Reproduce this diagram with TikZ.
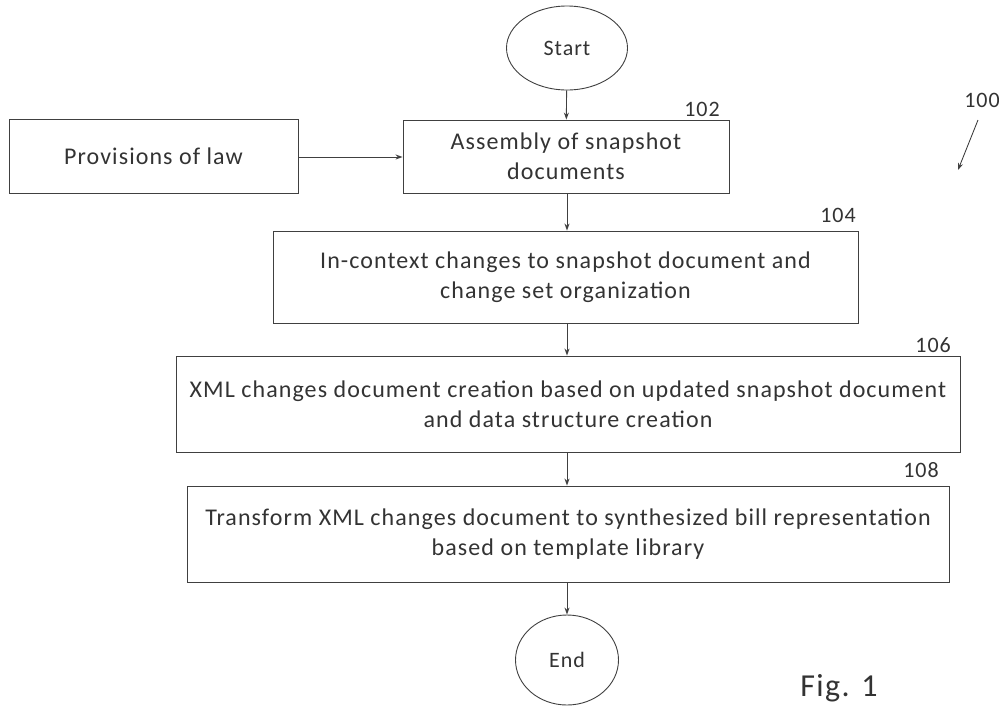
\documentclass[tikz,border=0pt]{standalone}
\usepackage{fontspec}
\setmainfont{Carlito}[LetterSpace=4.5]
\usetikzlibrary{arrows.meta,shapes.geometric}
\begin{document}
\begin{tikzpicture}[x=1pt,y=-1pt,
  ln/.style={draw=black!75,line width=0.9pt},
  boxn/.style={ln,rectangle,inner sep=0pt,align=center,font=\fontsize{24}{30}\selectfont,text=black!80},
  term/.style={ln,ellipse,inner sep=0pt,font=\fontsize{22}{26}\selectfont,text=black!80},
  arr/.style={ln,-{Stealth[length=7pt,width=5pt]}},
  lbl/.style={font=\fontsize{22}{24}\selectfont,text=black!80,inner sep=0pt,anchor=south east}]
\useasboundingbox (0,0) rectangle (999,710);
\node[term,minimum width=121pt,minimum height=84pt] (start) at (567,48) {Start};
\node[boxn,minimum width=326pt,minimum height=73pt] (b102) at (566,156.5) {Assembly of snapshot\\documents};
\node[boxn,minimum width=289pt,minimum height=74pt] (law) at (153.5,156) {Provisions of law};
\node[boxn,minimum width=585pt,minimum height=92pt] (b104) at (565.5,277) {In-context changes to snapshot document and\\change set organization};
\node[boxn,minimum width=784pt,minimum height=96pt] (b106) at (568,404) {XML changes document creation based on updated snapshot document\\and data structure creation};
\node[boxn,minimum width=762pt,minimum height=96pt] (b108) at (568,534) {Transform XML changes document to synthesized bill representation\\based on template library};
\node[term,minimum width=103pt,minimum height=90pt] (end) at (567,660) {End};
\node[lbl] (l102) at (720,117) {102};
\node[lbl] (l104) at (856,223) {104};
\node[lbl] (l106) at (951,353) {106};
\node[lbl] (l108) at (939,478) {108};
\node[lbl,anchor=center] (l100) at (982,100) {100};
\coordinate (a100s) at (978,120);
\coordinate (a100e) at (958,170);
\node[font=\fontsize{32}{36}\selectfont,text=black!80,inner sep=0pt] (fig) at (839,688) {Fig. 1};
\draw[arr] (start) -- (b102);
\draw[arr] (law.east |- 0,157) -- (b102.west |- 0,157);
\draw[arr] (b102.south -| start) -- (b104.north -| start);
\draw[arr] (b104.south -| start) -- (b106.north -| start);
\draw[arr] (b106.south -| start) -- (b108.north -| start);
\draw[arr] (b108.south -| start) -- (end);
\draw[arr] (a100s) -- (a100e);
\end{tikzpicture}
\end{document}
